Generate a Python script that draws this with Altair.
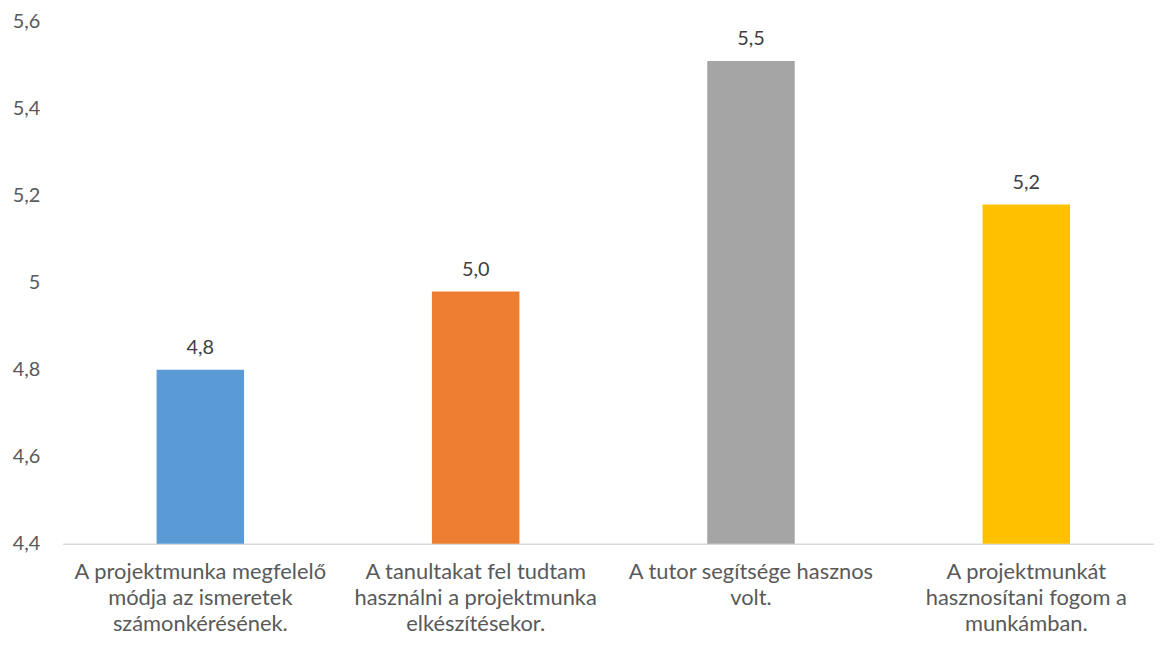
import altair as alt
import pandas as pd

categories = [
    "A projektmunka megfelelő|módja az ismeretek|számonkérésének.",
    "A tanultakat fel tudtam|használni a projektmunka|elkészítésekor.",
    "A tutor segítsége hasznos|volt.",
    "A projektmunkát|hasznosítani fogom a|munkámban.",
]
values = [4.80, 4.98, 5.51, 5.18]
colors = ["#5B9BD5", "#ED7D31", "#A5A5A5", "#FFC000"]
y_min = 4.4
y_max = 5.6
y_ticks = [4.4, 4.6, 4.8, 5.0, 5.2, 5.4, 5.6]

df = pd.DataFrame({"cat": categories, "val": values})

FONT = "Lato"

x = alt.X("cat:N", sort=categories, title=None,
          scale=alt.Scale(paddingInner=0.6823, paddingOuter=0.3231, align=0.528),
          axis=alt.Axis(labelExpr="split(datum.label, '|')", labelAngle=0,
                        labelFontSize=22, labelColor="#595959", labelFont=FONT,
                        labelLineHeight=26, labelPadding=18, ticks=False, labelLimit=400,
                        domainColor="#D9D9D9", domainWidth=1.5, labelBaseline="top"))

y = alt.Y("val:Q", title=None,
          scale=alt.Scale(domain=[y_min, y_max], nice=False, zero=False),
          axis=alt.Axis(values=y_ticks,
                        labelExpr="replace(format(datum.value, '.1~f'), '.', ',')",
                        labelFontSize=20, labelColor="#595959", labelFont=FONT,
                        labelPadding=23, ticks=False, domain=False, grid=False))

bars = alt.Chart(df).mark_bar().encode(
    x=x, y=y, y2=alt.Y2(datum=y_min),
    color=alt.Color("cat:N", sort=categories, scale=alt.Scale(domain=categories, range=colors), legend=None),
)

text = alt.Chart(df).transform_calculate(
    lbl="replace(format(datum.val, '.1f'), '.', ',')"
).mark_text(baseline="bottom", dy=-12, fontSize=20, font=FONT, color="#404040").encode(
    x=alt.X("cat:N", sort=categories), y="val:Q", text="lbl:N"
)

chart = (bars + text).properties(
    width=1098, height=525,
    autosize=alt.AutoSizeParams(type="none"),
    padding={"left": 55, "top": 12, "right": 0, "bottom": 93},
    background="white",
).configure_view(stroke=None)

chart.save("out.html", embed_options={"renderer": "svg", "actions": False})
